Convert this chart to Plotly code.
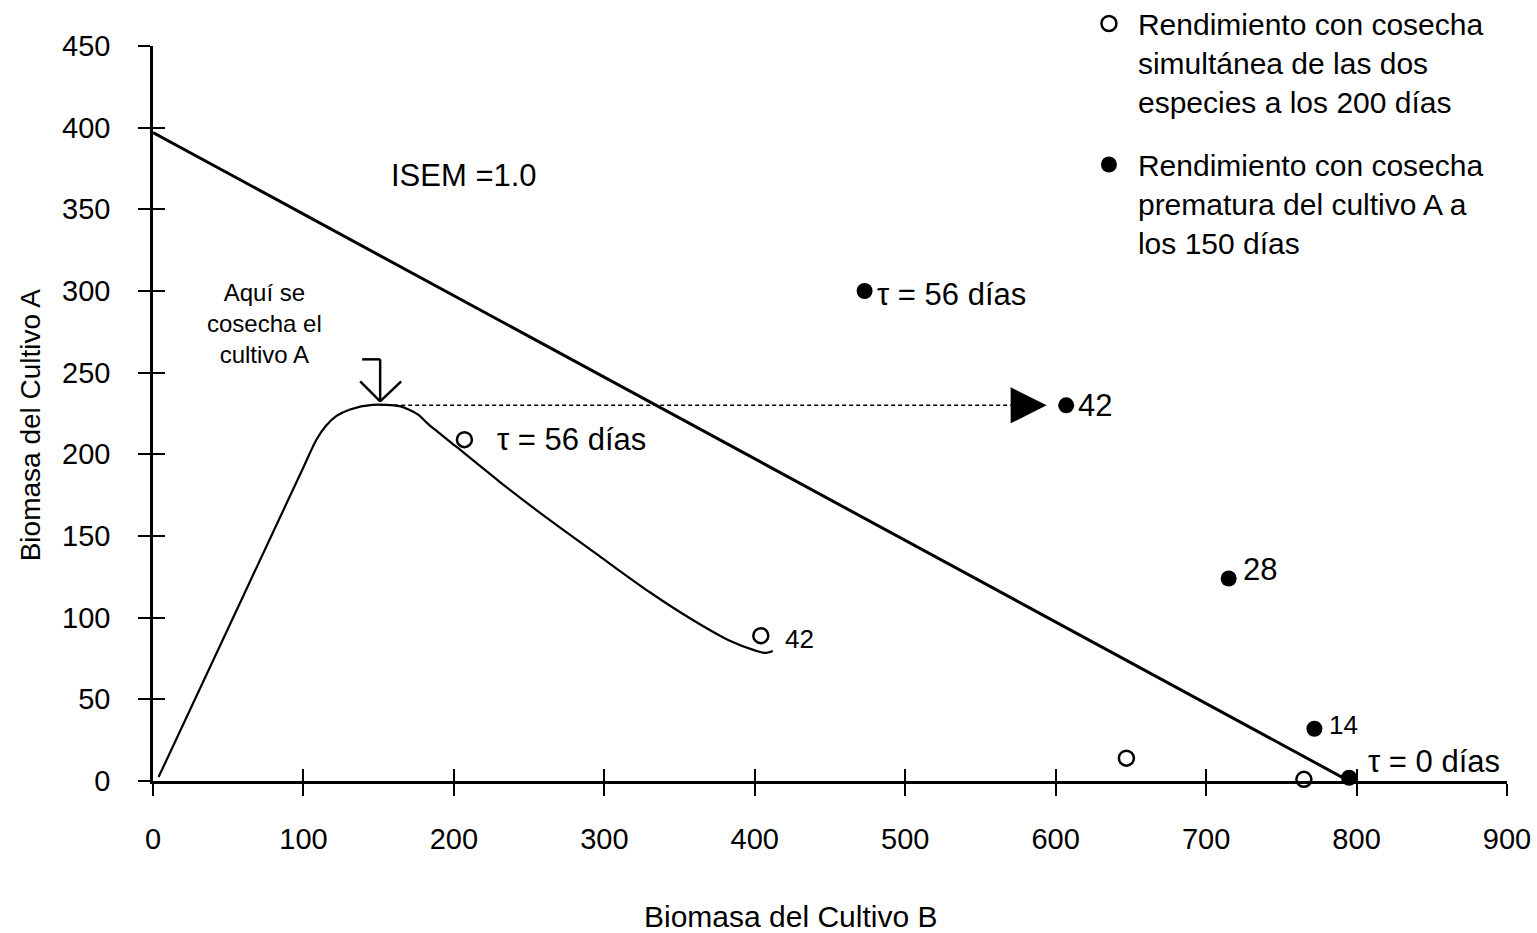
import plotly.graph_objects as go

FONT = "Liberation Sans, Arial, Helvetica, sans-serif"

# ---------------- data ----------------
x_ticks = [0, 100, 200, 300, 400, 500, 600, 700, 800, 900]
y_ticks = [0, 50, 100, 150, 200, 250, 300, 350, 400, 450]

# ISEM = 1.0 line
isem_x = [0, 795]
isem_y = [397, 0]

# trajectory of simultaneous harvest
curve_x = [3.7, 60, 100, 108.5, 115, 122, 131, 145.9, 163.9, 176, 183, 201.8, 230, 263.6, 297,
           330, 358, 383, 400, 407, 412]
curve_y = [2.4, 113.3, 192.1, 208.8, 217.5, 223.5, 227.5, 230.3, 229.5, 224.5, 218.5, 204.5, 183.5, 159.8, 137.5,
           115.7, 99, 86, 80, 78.4, 79.6]

# open circles: simultaneous harvest at 200 days
open_x = [207, 404, 647, 765, 795]
open_y = [209, 89, 14, 1, -2]
open_lbl = ["τ = 56 días", "42", "", "", ""]

# filled circles: premature harvest of crop A at 150 days
fill_x = [473, 607, 715, 772, 795]
fill_y = [300, 230, 124, 32, 2]
fill_lbl = ["τ = 56 días", "42", "28", "14", "τ = 0 días"]

# harvest of crop A and horizontal transfer arrow
harvest_x = 151
harvest_y = 230
transfer_end_x = 594

fig = go.Figure()

# ISEM line (on overlay axes, which also carry the inside half of the ticks)
fig.add_trace(go.Scatter(x=isem_x, y=isem_y, mode="lines", xaxis="x2", yaxis="y2",
                         line=dict(color="black", width=3), showlegend=False, hoverinfo="skip"))

fig.add_trace(go.Scatter(x=curve_x, y=curve_y, mode="lines",
                         line=dict(color="black", width=2.2, shape="spline", smoothing=0.7),
                         showlegend=False, hoverinfo="skip"))

fig.add_trace(go.Scatter(x=[harvest_x, transfer_end_x - 12], y=[harvest_y, harvest_y], mode="lines",
                         line=dict(color="black", width=1.5, dash="4px,3px"),
                         showlegend=False, hoverinfo="skip"))

fig.add_trace(go.Scatter(x=open_x, y=open_y, mode="markers", cliponaxis=False,
                         name="Rendimiento con cosecha<br>simultánea de las dos<br>especies a los 200 días",
                         legendgroup="a",
                         marker=dict(symbol="circle-open", size=15, color="black", line=dict(width=2.5, color="black"))))

fig.add_trace(go.Scatter(x=fill_x, y=fill_y, mode="markers", cliponaxis=False,
                         name="Rendimiento con cosecha<br>prematura del cultivo A a<br>los 150 días",
                         legendgroup="b",
                         marker=dict(symbol="circle", size=16, color="black")))

annotations = []
big = dict(family=FONT, size=31, color="black")
small = dict(family=FONT, size=26, color="black")

# labels for points
open_shift = [(31, 0), (22, -3)]
for i, (sx, sy) in enumerate(open_shift):
    annotations.append(dict(x=open_x[i], y=open_y[i], text=open_lbl[i], showarrow=False,
                            xanchor="left", yanchor="middle", xshift=sx, yshift=sy,
                            font=big if i == 0 else small))
fill_shift = [(10, -3), (10, 0), (12, 9), (13, 4), (17, 16)]
for i, (sx, sy) in enumerate(fill_shift):
    annotations.append(dict(x=fill_x[i], y=fill_y[i], text=fill_lbl[i], showarrow=False,
                            xanchor="left", yanchor="middle", xshift=sx, yshift=sy,
                            font=small if fill_lbl[i] == "14" else big))

annotations.append(dict(x=157, y=371, text="ISEM =1.0", showarrow=False,
                        xanchor="left", yanchor="middle", font=big))
annotations.append(dict(x=74, y=280, text="Aquí se<br>cosecha el<br>cultivo A", showarrow=False,
                        xanchor="center", yanchor="middle", align="center",
                        font=dict(family=FONT, size=24, color="black")))

# arrowhead of the transfer line
annotations.append(dict(x=transfer_end_x, y=harvest_y, ax=-30, ay=0, text="", showarrow=True,
                        arrowhead=2, arrowsize=3.6, arrowwidth=2, arrowcolor="black", standoff=0))

# axis titles
annotations.append(dict(x=0.4705, y=-0.184, xref="paper", yref="paper", text="Biomasa del Cultivo B",
                        showarrow=False, xanchor="center", yanchor="middle",
                        font=dict(family=FONT, size=30, color="black")))
annotations.append(dict(x=-0.0908, y=0.484, xref="paper", yref="paper", text="Biomasa del Cultivo A",
                        showarrow=False, xanchor="center", yanchor="middle", textangle=-90,
                        font=dict(family=FONT, size=28, color="black")))

# down arrow marking harvest of crop A (pixel offsets from the harvest point)
arrow_lines = [(-18, 46, 0, 46), (0, 46, 0, 4), (-20, 24, 0, 4), (0, 4, 21, 24)]
shapes = []
for (a, b, c, d) in arrow_lines:
    shapes.append(dict(type="line", xref="x", yref="y", xsizemode="pixel", ysizemode="pixel",
                       xanchor=harvest_x, yanchor=harvest_y, x0=a, y0=b, x1=c, y1=d,
                       line=dict(color="black", width=2.5)))

axis_common = dict(showgrid=False, zeroline=False, showline=True, linecolor="black", linewidth=2.5,
                   ticks="outside", ticklen=12, tickwidth=2.2, tickcolor="black",
                   tickfont=dict(family=FONT, size=29, color="black"))

fig.update_layout(
    width=1537, height=933,
    margin=dict(l=153, r=30, t=46, b=152, autoexpand=False),
    paper_bgcolor="white", plot_bgcolor="white",
    font=dict(family=FONT, color="black"),
    xaxis=dict(range=[0, 900], tickvals=x_ticks, ticklabelstandoff=18, **axis_common),
    yaxis=dict(range=[0, 450], tickvals=y_ticks, ticklabelstandoff=22, **axis_common),
    xaxis2=dict(range=[0, 900], tickvals=x_ticks, overlaying="x", anchor="y2", showgrid=False,
                zeroline=False, showline=False, ticks="inside", ticklen=12, tickwidth=2.2,
                tickcolor="black", showticklabels=False),
    yaxis2=dict(range=[0, 450], tickvals=y_ticks, overlaying="y", anchor="x2", showgrid=False,
                zeroline=False, showline=False, ticks="inside", ticklen=12, tickwidth=2.2,
                tickcolor="black", showticklabels=False),
    legend=dict(x=0.6846, y=1.066, xanchor="left", yanchor="top", valign="top", itemwidth=48,
                font=dict(family=FONT, size=30, color="black"), bgcolor="rgba(0,0,0,0)",
                traceorder="grouped", tracegroupgap=21),
    annotations=annotations,
    shapes=shapes,
)

fig.write_html("out.html")
